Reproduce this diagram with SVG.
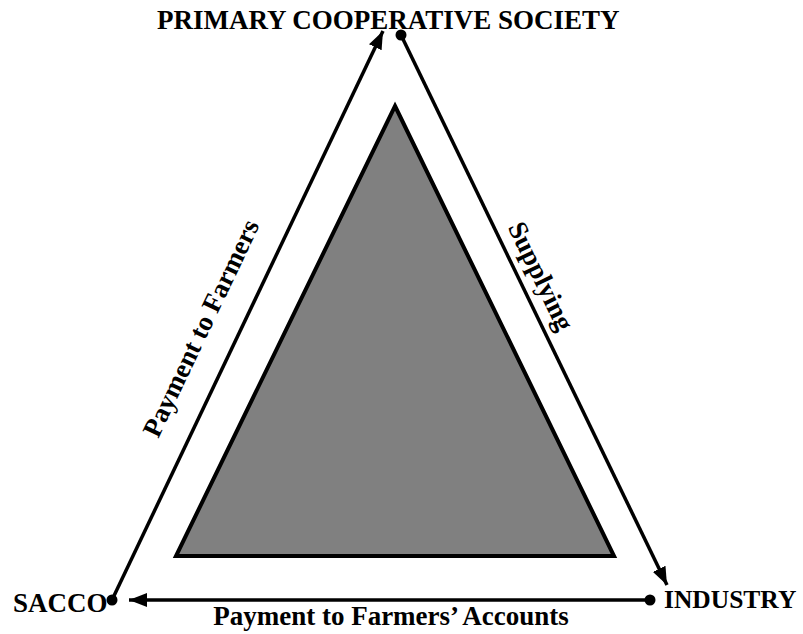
<svg xmlns="http://www.w3.org/2000/svg" width="803" height="634" viewBox="0 0 803 634">
<style>
.lbl{font-family:"Liberation Serif","Times New Roman",serif;font-weight:bold;font-size:27px;fill:#000}
.edge{stroke:#000;stroke-width:3.5;fill:none}
.dot{fill:#000}
</style>
<defs>
<marker id="arr" markerUnits="userSpaceOnUse" markerWidth="18" markerHeight="14" viewBox="0 0 18 14" refX="18" refY="7" orient="auto">
<path d="M0,0 L18,7 L0,14 Z" fill="#000"/>
</marker>
</defs>
<rect width="803" height="634" fill="#fff"/>
<g id="core">
<path d="M395,106 L614,556 L176,556 Z" fill="#808080" stroke="#000" stroke-width="4" stroke-linejoin="miter"/>
</g>
<g id="connectors">
<line class="edge" x1="112" y1="600" x2="383" y2="31" marker-end="url(#arr)"/>
<line class="edge" x1="401" y1="35" x2="667" y2="585" marker-end="url(#arr)"/>
<line class="edge" x1="650" y1="600" x2="129" y2="600" marker-end="url(#arr)"/>
<circle class="dot" cx="112" cy="600" r="5.5"/>
<circle class="dot" cx="401" cy="35" r="5.5"/>
<circle class="dot" cx="650" cy="600" r="5.5"/>
<text class="lbl" text-anchor="middle" transform="translate(209,332) rotate(-64.6)">Payment to Farmers</text>
<text class="lbl" text-anchor="middle" transform="translate(533,280) rotate(64.2)">Supplying</text>
<text class="lbl" text-anchor="middle" x="391" y="625">Payment to Farmers’ Accounts</text>
</g>
<g id="pcs">
<text class="lbl" x="157" y="29">PRIMARY COOPERATIVE SOCIETY</text>
</g>
<g id="sacco">
<text class="lbl" x="13" y="612">SACCO</text>
</g>
<g id="industry">
<text class="lbl" x="664" y="608" style="font-size:25.5px">INDUSTRY</text>
</g>
</svg>
